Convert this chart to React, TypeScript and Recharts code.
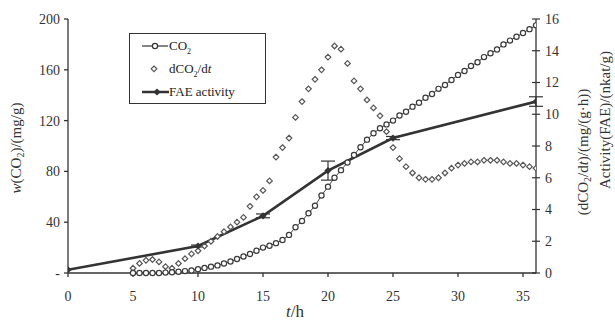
import React from "react";
import {
  ComposedChart,
  Line,
  XAxis,
  YAxis,
  Legend,
  ErrorBar,
} from "recharts";

// time grid (h) of the CO2 / dCO2 measurements
const hours = [
  5, 5.5, 6, 6.5, 7, 7.5, 8, 8.5, 9, 9.5, 10, 10.5, 11, 11.5, 12, 12.5, 13,
  13.5, 14, 14.5, 15, 15.5, 16, 16.5, 17, 17.5, 18, 18.5, 19, 19.5, 20, 20.5,
  21, 21.5, 22, 22.5, 23, 23.5, 24, 24.5, 25, 25.5, 26, 26.5, 27, 27.5, 28,
  28.5, 29, 29.5, 30, 30.5, 31, 31.5, 32, 32.5, 33, 33.5, 34, 34.5, 35, 35.5,
  36,
];

// cumulative CO2, mg/g (left axis)
const co2 = [
  0, 0, 0, 0, 0, 0.3, 0.6, 1, 1.5, 2, 3, 4, 5, 6, 7.5, 9, 11, 13, 15, 17.5, 20,
  21.5, 23.5, 26, 30, 36, 41, 47, 53, 61, 68, 75, 81, 87, 93, 99, 105, 110,
  114, 117, 120, 124, 127, 131, 134, 138, 141, 145, 148, 152, 156, 159, 163,
  166, 170, 173, 176, 180, 183, 186, 189, 192, 195,
];

// CO2 production rate, mg/(g·h) (right axis)
const dco2 = [
  0.3, 0.6, 0.8, 0.85, 0.7, 0.4, 0.3, 0.6, 0.9, 1.2, 1.4, 1.7, 2.0, 2.3, 2.6,
  2.9, 3.2, 3.5, 4.2, 4.8, 5.2, 5.8, 7.3, 7.9, 8.5, 9.8, 10.8, 11.6, 12.2,
  12.8, 13.6, 14.3, 14.1, 13.2, 12.1, 11.6, 10.9, 10.4, 9.9, 8.9, 7.9, 7.2,
  6.7, 6.3, 6.0, 5.9, 5.9, 6.0, 6.3, 6.6, 6.8, 6.9, 7.0, 7.0, 7.1, 7.1, 7.1,
  7.0, 6.9, 6.9, 6.8, 6.7, 6.6,
];

// FAE activity, nkat/g (right axis)
const faeHours = [0, 10, 15, 20, 25, 36];
const fae = [0.2, 1.7, 3.6, 6.45, 8.5, 10.8];
const faeErr = [0, 0.06, 0.12, 0.6, 0.1, 0.3];

const xTicks = [0, 5, 10, 15, 20, 25, 30, 35];
const leftTicks = [0, 40, 80, 120, 160, 200];
const rightTicks = [0, 2, 4, 6, 8, 10, 12, 14, 16];

const co2Data = hours.map((t, i) => ({ t, v: co2[i] }));
const rateData = hours.map((t, i) => ({ t, v: dco2[i] }));
const faeData = faeHours.map((t, i) => ({ t, v: fae[i], err: faeErr[i] }));

const INK = "#333";
const FONT = "'Liberation Serif', 'DejaVu Serif', serif";

const OpenCircle = (props: any) => {
  const { cx, cy } = props;
  if (cx == null || cy == null) return null;
  return <circle cx={cx} cy={cy} r={2.6} fill="#fff" stroke="#3a3a3a" strokeWidth={1.2} />;
};

const OpenDiamond = (props: any) => {
  const { cx, cy } = props;
  if (cx == null || cy == null) return null;
  const s = 2.8;
  return (
    <polygon
      points={`${cx},${cy - s} ${cx + s},${cy} ${cx},${cy + s} ${cx - s},${cy}`}
      fill="#fff"
      stroke="#555"
      strokeWidth={1.2}
    />
  );
};

const FilledDot = (props: any) => {
  const { cx, cy } = props;
  if (cx == null || cy == null) return null;
  const s = 3.6;
  return (
    <polygon
      points={`${cx},${cy - s} ${cx + s},${cy} ${cx},${cy + s} ${cx - s},${cy}`}
      fill={INK}
    />
  );
};

const RightTick = (props: any) => {
  const { x, y, payload } = props;
  return (
    <g>
      <line x1={x - 4} x2={x + 4} y1={y} y2={y} stroke={INK} strokeWidth={1.2} />
      <text x={x + 9} y={y} dy="0.35em" fontSize={14} fill={INK} fontFamily={FONT}>
        {payload.value}
      </text>
    </g>
  );
};

const ChartLegend = () => (
  <div
    style={{
      width: 137,
      height: 71,
      border: `1.3px solid ${INK}`,
      background: "#fff",
      fontFamily: FONT,
      fontSize: 13,
      color: "#222",
      boxSizing: "border-box",
      position: "relative",
    }}
  >
    <svg width={40} height={71} style={{ position: "absolute", left: 0, top: 0 }}>
      <line x1={12} x2={38} y1={12} y2={12} stroke={INK} strokeWidth={1.2} />
      <circle cx={25} cy={12} r={2.6} fill="#fff" stroke={INK} strokeWidth={1.2} />
      <polygon points="24,32 26.8,34.8 24,37.6 21.2,34.8" fill="#fff" stroke="#555" strokeWidth={1.2} />
      <line x1={12} x2={39} y1={58} y2={58} stroke={INK} strokeWidth={2.5} />
      <polygon points="27,54.4 30.6,58 27,61.6 23.4,58" fill={INK} />
    </svg>
    <div style={{ position: "absolute", left: 39, top: 4, lineHeight: "15px" }}>
      CO<sub style={{ fontSize: 8 }}>2</sub>
    </div>
    <div style={{ position: "absolute", left: 39, top: 27, lineHeight: "15px" }}>
      dCO<sub style={{ fontSize: 8 }}>2</sub>/d<i>t</i>
    </div>
    <div style={{ position: "absolute", left: 39, top: 50, lineHeight: "15px" }}>
      FAE activity
    </div>
  </div>
);

const leftLabel = () => (
  <text
    transform="translate(21,148) rotate(-90)"
    textAnchor="middle"
    fontSize={15}
    fill={INK}
    fontFamily={FONT}
  >
    <tspan fontStyle="italic">w</tspan>
    <tspan>(CO</tspan>
    <tspan fontSize={10} dy={3}>2</tspan>
    <tspan dy={-3}>)/(mg/g)</tspan>
  </text>
);

const rightLabels = () => (
  <g fontFamily={FONT} fill={INK} fontSize={15}>
    <text transform="translate(588,152) rotate(-90)" textAnchor="middle">
      <tspan>(dCO</tspan>
      <tspan fontSize={10} dy={3}>2</tspan>
      <tspan dy={-3}>/d</tspan>
      <tspan fontStyle="italic">t</tspan>
      <tspan>)/(mg/(g·h))</tspan>
    </text>
    <text transform="translate(610,120) rotate(-90)" textAnchor="middle">
      Activity(FAE)/(nkat/g)
    </text>
  </g>
);

const bottomLabel = () => (
  <text x={295} y={317} textAnchor="middle" fontSize={17} fill={INK} fontFamily={FONT}>
    <tspan fontStyle="italic">t</tspan>
    <tspan>/h</tspan>
  </text>
);

export default function App() {
  return (
    <div style={{ position: "absolute", left: 0, top: 0, width: 615, height: 320, background: "#fff" }}>
      <ComposedChart
        width={615}
        height={320}
        margin={{ top: 19, right: 49, bottom: 17, left: 28 }}
      >
        <XAxis
          type="number"
          dataKey="t"
          domain={[0, 36]}
          ticks={xTicks}
          allowDataOverflow
          stroke={INK}
          strokeWidth={1.3}
          tickSize={4}
          tickMargin={14}
          height={30}
          tick={{ fill: INK, fontSize: 14, fontFamily: FONT }}
          label={{ content: bottomLabel }}
        />
        <YAxis
          yAxisId="left"
          domain={[0, 200]}
          ticks={leftTicks}
          width={40}
          stroke={INK}
          strokeWidth={1.3}
          tickSize={4}
          tickMargin={4}
          tickFormatter={(v: number) => (v === 0 ? "-" : String(v))}
          tick={{ fill: INK, fontSize: 14, fontFamily: FONT }}
          label={{ content: leftLabel }}
        />
        <YAxis
          yAxisId="right"
          orientation="right"
          domain={[0, 16]}
          ticks={rightTicks}
          width={30}
          stroke={INK}
          strokeWidth={1.3}
          tickLine={false}
          tickSize={0}
          tickMargin={0}
          tick={RightTick}
          label={{ content: rightLabels }}
        />
        <Legend
          layout="horizontal"
          verticalAlign="middle"
          align="center"
          wrapperStyle={{ left: 129, top: 33, width: 137 }}
          content={ChartLegend}
        />
        <Line
          yAxisId="right"
          data={rateData}
          dataKey="v"
          stroke="none"
          dot={OpenDiamond}
          activeDot={false}
          isAnimationActive={false}
          legendType="none"
        />
        <Line
          yAxisId="left"
          data={co2Data}
          dataKey="v"
          stroke="#444"
          strokeWidth={1}
          dot={OpenCircle}
          activeDot={false}
          isAnimationActive={false}
        />
        <Line
          yAxisId="right"
          data={faeData}
          dataKey="v"
          stroke={INK}
          strokeWidth={2.6}
          dot={FilledDot}
          activeDot={false}
          isAnimationActive={false}
        >
          <ErrorBar dataKey="err" width={7} stroke={INK} strokeWidth={1.2} />
        </Line>
      </ComposedChart>
    </div>
  );
}
